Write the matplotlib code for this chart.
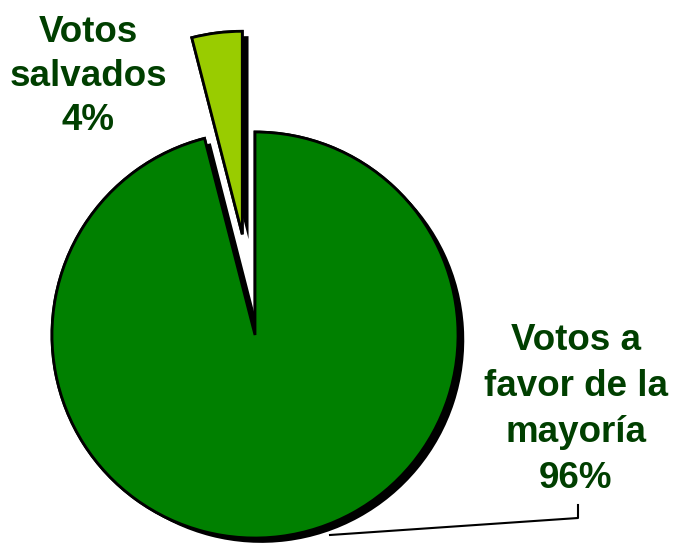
import matplotlib
matplotlib.use("Agg")
import matplotlib.pyplot as plt
import matplotlib.patheffects as pe
from matplotlib.lines import Line2D

categories = ["Votos salvados", "Votos a favor de la mayoría"]
values = [4, 96]
colors = ["#99CC00", "#008000"]
explode = [0.5, 0.0]
label_lines = [["Votos", "salvados", "4%"], ["Votos a", "favor de la", "mayoría", "96%"]]

W, H = 673, 544
fig = plt.figure(figsize=(W / 100, H / 100), dpi=100)
ax = fig.add_axes([0, 0, 1, 1])

R = 203.0
cx, cy = 255.0, 335.0  # pixel centre (from top)

wedges, _ = ax.pie(values, colors=colors, explode=explode, startangle=90,
                   counterclock=True, radius=1.0, center=(0, 0),
                   wedgeprops=dict(edgecolor="black", linewidth=2.0))
for w in wedges:
    w.set_path_effects([pe.SimplePatchShadow(offset=(4.5, -3.5), shadow_rgbFace="black", alpha=1.0),
                        pe.Stroke(linewidth=2.0, foreground="black"),
                        pe.Normal()])

ax.set_xlim(-cx / R, (W - cx) / R)
ax.set_ylim(-(H - cy) / R, cy / R)
ax.set_aspect("equal")
ax.axis("off")

txt_color = "#003F00"
font = dict(family=["Liberation Sans", "DejaVu Sans"], weight="bold", size=26.5, color=txt_color)

def ftext(px, py, s):
    fig.text(px / W, 1 - py / H, s, ha="center", va="baseline", **font)

for i, s in enumerate(label_lines[0]):
    ftext(88, 42 + 44 * i, s)
for i, s in enumerate(label_lines[1]):
    ftext(576, 350 + 46 * i, s)

xs = [330, 578, 578]
ys = [535, 518, 505]
fig.add_artist(Line2D([x / W for x in xs], [1 - y / H for y in ys], color="black",
                      linewidth=1.5, transform=fig.transFigure, zorder=0))

fig.savefig("out.png", dpi=100)
